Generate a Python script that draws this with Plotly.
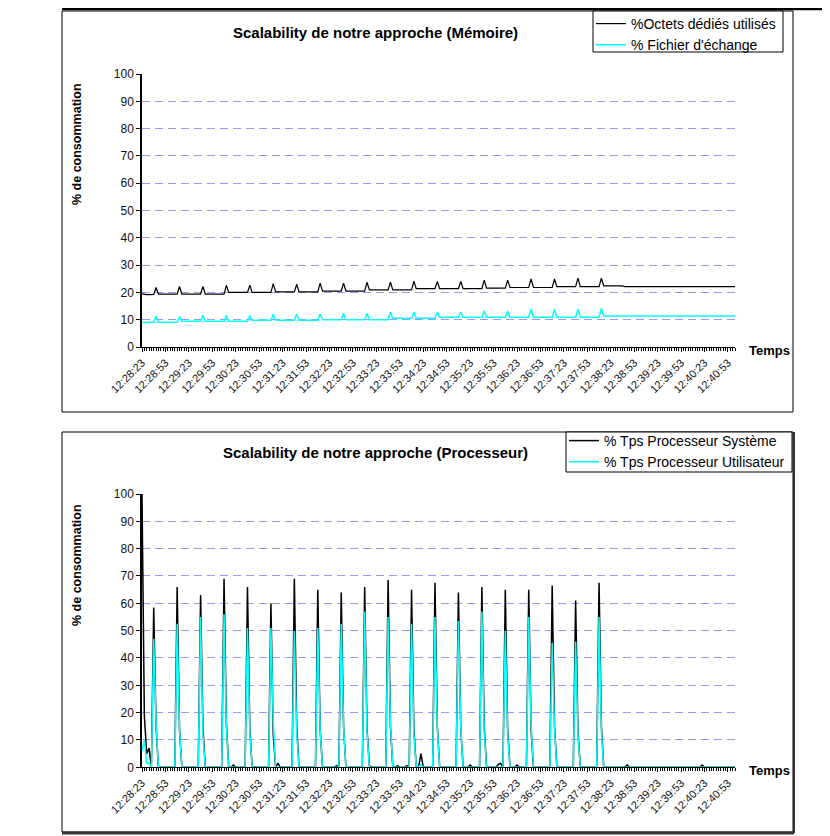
import pandas as pd
import plotly.graph_objects as go

# ---------------- data ----------------
TIME_LABELS = ["12:28:23", "12:28:53", "12:29:23", "12:29:53", "12:30:23", "12:30:53",
               "12:31:23", "12:31:53", "12:32:23", "12:32:53", "12:33:23", "12:33:53",
               "12:34:23", "12:34:53", "12:35:23", "12:35:53", "12:36:23", "12:36:53",
               "12:37:23", "12:37:53", "12:38:23", "12:38:53", "12:39:23", "12:39:53",
               "12:40:23", "12:40:53"]

MEM_USED = [
    19.5, 19.3, 19.2, 19.2, 19.3, 19.3, 21.8, 19.4, 19.4, 19.4,
    19.4, 19.4, 19.4, 19.4, 19.4, 19.4, 22.2, 19.4, 19.4, 19.4,
    19.4, 19.4, 19.4, 19.4, 19.4, 19.4, 22.2, 19.4, 19.4, 19.4,
    19.4, 19.4, 19.4, 19.4, 19.4, 19.4, 22.6, 20.0, 20.0, 20.0,
    20.0, 20.0, 20.0, 20.0, 20.0, 20.0, 22.6, 20.0, 20.0, 20.0,
    20.0, 20.0, 20.0, 20.0, 20.0, 20.0, 23.2, 20.2, 20.2, 20.2,
    20.2, 20.2, 20.2, 20.2, 20.2, 20.2, 23.0, 20.2, 20.2, 20.2,
    20.2, 20.2, 20.2, 20.2, 20.2, 20.2, 23.4, 20.5, 20.5, 20.5,
    20.5, 20.5, 20.5, 20.5, 20.5, 20.5, 23.4, 20.5, 20.5, 20.5,
    20.5, 20.5, 20.5, 20.5, 20.5, 20.5, 23.7, 20.9, 20.9, 20.9,
    20.9, 20.9, 20.9, 20.9, 20.9, 20.9, 23.7, 20.9, 20.9, 20.9,
    20.9, 20.9, 20.9, 20.9, 20.9, 20.9, 24.1, 21.4, 21.4, 21.4,
    21.4, 21.4, 21.4, 21.4, 21.4, 21.4, 24.0, 21.4, 21.4, 21.4,
    21.4, 21.4, 21.4, 21.4, 21.4, 21.4, 24.0, 21.4, 21.4, 21.4,
    21.4, 21.4, 21.4, 21.4, 21.4, 21.4, 24.5, 21.6, 21.6, 21.6,
    21.6, 21.6, 21.6, 21.6, 21.6, 21.6, 24.5, 21.8, 21.8, 21.8,
    21.8, 21.8, 21.8, 21.8, 21.8, 21.8, 24.9, 21.8, 21.8, 21.8,
    21.8, 21.8, 21.8, 21.8, 21.8, 21.8, 24.9, 22.1, 22.1, 22.1,
    22.1, 22.1, 22.1, 22.1, 22.1, 22.1, 25.2, 22.1, 22.1, 22.1,
    22.1, 22.1, 22.1, 22.1, 22.1, 22.1, 25.2, 22.4, 22.4, 22.4,
    22.4, 22.4, 22.4, 22.4, 22.4, 22.4, 22.1, 22.1, 22.1, 22.1,
    22.1, 22.1, 22.1, 22.1, 22.1, 22.1, 22.1, 22.1, 22.1, 22.1,
    22.1, 22.1, 22.1, 22.1, 22.1, 22.1, 22.1, 22.1, 22.1, 22.1,
    22.1, 22.1, 22.1, 22.1, 22.1, 22.1, 22.1, 22.1, 22.1, 22.1,
    22.1, 22.1, 22.1, 22.1, 22.1, 22.1, 22.1, 22.1, 22.1, 22.1,
    22.1, 22.1, 22.1, 22.1,
]

MEM_SWAP = [
    9.0, 9.1, 9.1, 9.1, 9.1, 9.1, 11.3, 9.1, 9.1, 9.1,
    9.1, 9.1, 9.1, 9.1, 9.1, 9.1, 11.1, 9.4, 9.4, 9.4,
    9.4, 9.4, 9.4, 9.4, 9.4, 9.4, 11.6, 9.4, 9.4, 9.4,
    9.4, 9.4, 9.4, 9.4, 9.4, 9.4, 11.6, 9.4, 9.4, 9.4,
    9.4, 9.4, 9.4, 9.4, 9.4, 9.4, 11.5, 9.8, 9.8, 9.8,
    9.8, 9.8, 9.8, 9.8, 9.8, 9.8, 12.1, 9.8, 9.8, 9.8,
    9.8, 9.8, 9.8, 9.8, 9.8, 9.8, 12.1, 9.8, 9.8, 9.8,
    9.8, 9.8, 9.8, 9.8, 9.8, 9.8, 12.1, 10.0, 10.0, 10.0,
    10.0, 10.0, 10.0, 10.0, 10.0, 10.0, 12.3, 10.0, 10.0, 10.0,
    10.0, 10.0, 10.0, 10.0, 10.0, 10.0, 12.4, 10.0, 10.0, 10.0,
    10.0, 10.0, 10.0, 10.0, 10.0, 10.0, 12.7, 10.5, 10.5, 10.5,
    10.5, 10.5, 10.5, 10.5, 10.5, 10.5, 12.8, 10.5, 10.5, 10.5,
    10.5, 10.5, 10.5, 10.5, 10.5, 10.5, 12.8, 10.9, 10.9, 10.9,
    10.9, 10.9, 10.9, 10.9, 10.9, 10.9, 12.8, 10.9, 10.9, 10.9,
    10.9, 10.9, 10.9, 10.9, 10.9, 10.9, 13.2, 10.9, 10.9, 10.9,
    10.9, 10.9, 10.9, 10.9, 10.9, 10.9, 13.2, 10.9, 10.9, 10.9,
    10.9, 10.9, 10.9, 10.9, 10.9, 10.9, 13.8, 10.9, 10.9, 10.9,
    10.9, 10.9, 10.9, 10.9, 10.9, 10.9, 13.8, 10.9, 10.9, 10.9,
    10.9, 10.9, 10.9, 10.9, 10.9, 10.9, 13.8, 10.9, 10.9, 10.9,
    10.9, 10.9, 10.9, 10.9, 10.9, 10.9, 14.1, 11.4, 11.4, 11.4,
    11.4, 11.4, 11.4, 11.4, 11.4, 11.4, 11.4, 11.4, 11.4, 11.4,
    11.4, 11.4, 11.4, 11.4, 11.4, 11.4, 11.4, 11.4, 11.4, 11.4,
    11.4, 11.4, 11.4, 11.4, 11.4, 11.4, 11.4, 11.4, 11.4, 11.4,
    11.4, 11.4, 11.4, 11.4, 11.4, 11.4, 11.4, 11.4, 11.4, 11.4,
    11.4, 11.4, 11.4, 11.4, 11.4, 11.4, 11.4, 11.4, 11.4, 11.4,
    11.4, 11.4, 11.4, 11.4,
]

CPU_SYS = [
    100, 19, 5, 7, 0, 58.5, 15, 0, 0, 0,
    0, 0, 0, 0, 0, 66, 14, 0, 0, 0,
    0, 0, 0, 0, 0, 63, 15, 0, 0, 0,
    0, 0, 0, 0, 0, 69, 16, 0, 0, 0.8,
    0, 0, 0, 0, 0, 66, 14, 0, 0, 0,
    0, 0, 0, 0, 0, 60, 12, 0, 1.5, 0,
    0, 0, 0, 0, 0, 69, 15, 0, 0, 0,
    0, 0, 0, 0, 0, 65, 14, 0, 0, 0,
    0, 0, 0, 0.6, 0, 64, 15, 0, 0, 0,
    0, 0, 0, 0, 0, 66, 14, 0.6, 0, 0,
    0, 0, 0, 0, 0, 68.5, 15, 0, 0, 0.6,
    0, 0, 0, 0.6, 0, 65, 14, 0, 0, 5,
    0, 0, 0, 0, 0, 67.5, 15, 0, 0, 0,
    0, 0, 0, 0, 0, 64, 14, 0, 0, 0,
    0.8, 0, 0, 0, 0, 66, 15, 0, 0, 0,
    0, 0, 1, 1.5, 0, 65, 14, 0, 0, 0,
    0.8, 0, 0, 0, 0, 65, 14, 0, 0, 0,
    0, 0, 0, 0, 0, 66.5, 15, 0, 0, 0,
    0, 0, 0, 0, 0, 61, 13, 0, 0, 0,
    0, 0, 0, 0, 0, 67.5, 15, 0, 0, 0,
    0, 0, 0, 0, 0, 0, 0, 0.8, 0, 0,
    0, 0, 0, 0, 0, 0, 0, 0, 0, 0,
    0, 0, 0, 0, 0, 0, 0, 0, 0, 0,
    0, 0, 0, 0, 0, 0, 0, 0, 0, 0.8,
    0, 0, 0, 0, 0, 0, 0, 0, 0, 0,
    0, 0, 0, 0,
]

CPU_USER = [
    6, 10, 1.5, 1.5, 0, 47, 16, 0, 0, 0,
    0, 0, 0, 0, 0, 52.5, 14, 0, 0, 0,
    0, 0, 0, 0, 0, 55, 12, 0, 0, 0,
    0, 0, 0, 0, 0, 56, 15, 0, 0, 0,
    0, 0, 0, 0, 0, 51, 13, 0, 0, 0,
    0, 0, 0, 0, 0, 51, 17, 0, 0, 0,
    0, 0, 0, 0, 0, 50, 12, 0, 0, 0,
    0, 0, 0, 0, 0, 51, 14, 0, 0, 0,
    0, 0, 0, 0, 0, 52.5, 15, 0, 0, 0,
    0, 0, 0, 0, 0, 57, 13, 0, 0, 0,
    0, 0, 0, 0, 0, 55, 16, 0, 0, 0,
    0, 0, 0, 0, 0, 52.5, 12, 0, 0, 1,
    0, 0, 0, 0, 0, 55, 14, 0, 0, 0,
    0, 0, 0, 0, 0, 53.5, 15, 0, 0, 0,
    0, 0, 0, 0, 0, 57, 13, 0, 0, 0,
    0, 0, 0, 0, 0, 50, 12, 0, 0, 0,
    0, 0, 0, 0, 0, 55, 16, 0, 0, 0,
    0, 0, 0, 0, 0, 45.5, 14, 0, 0, 0,
    0, 0, 0, 0, 0, 46, 12, 0, 0, 0,
    0, 0, 0, 0, 0, 55, 13, 0, 0, 0,
    0, 0, 0, 0, 0, 0, 0, 0, 0, 0,
    0, 0, 0, 0, 0, 0, 0, 0, 0, 0,
    0, 0, 0, 0, 0, 0, 0, 0, 0, 0,
    0, 0, 0, 0, 0, 0, 0, 0, 0, 0,
    0, 0, 0, 0, 0, 0, 0, 0, 0, 0,
    0, 0, 0, 0,
]

DAY = "2024-01-01 "
times = pd.date_range(DAY + TIME_LABELS[0], periods=len(MEM_USED), freq="3s")
tick_times = [DAY + t for t in TIME_LABELS]

# ---------------- layout helpers ----------------
# the page body has an 8px margin; the figure fills the rest of the 830x836 window
OFF = 8
W, H = 830 - OFF, 836 - OFF
FONT = "Liberation Sans, Arial, sans-serif"


def px(x):
    """screen x (pixels) -> paper fraction"""
    return (x - OFF) / W


def py(y):
    """screen y (pixels) -> paper fraction"""
    return 1 - (y - OFF) / H


fig = go.Figure()

fig.add_trace(go.Scatter(x=times, y=MEM_USED, name="%Octets dédiés utilisés", mode="lines",
                         line=dict(color="#000000", width=1.2), xaxis="x", yaxis="y", legend="legend"))
fig.add_trace(go.Scatter(x=times, y=MEM_SWAP, name="% Fichier d'échange", mode="lines",
                         line=dict(color="#00FFFF", width=1.5), xaxis="x", yaxis="y", legend="legend"))
fig.add_trace(go.Scatter(x=times, y=CPU_SYS, name="% Tps Processeur Système", mode="lines",
                         line=dict(color="#000000", width=1.5), xaxis="x2", yaxis="y2", legend="legend2"))
fig.add_trace(go.Scatter(x=times, y=CPU_USER, name="% Tps Processeur Utilisateur", mode="lines",
                         line=dict(color="#00FFFF", width=1.5), xaxis="x2", yaxis="y2", legend="legend2"))


def xaxis_cfg(anchor):
    return dict(
        domain=[px(142), px(735)], anchor=anchor, type="date", automargin=False,
        range=[times[0], times[-1]],
        tickmode="array", tickvals=tick_times, ticktext=TIME_LABELS,
        tickangle=-45, ticks="outside", ticklen=4, tickcolor="#000000",
        tickfont=dict(family=FONT, size=11, color="#111111"),
        minor=dict(ticks="outside", ticklen=3, dtick=3000, tick0=times[0], tickcolor="#000000",
                   showgrid=False),
        showline=True, linecolor="#000000", linewidth=1,
        showgrid=False, zeroline=False,
    )


def yaxis_cfg(anchor, y0, y100):
    return dict(
        domain=[py(y0), py(y100)], anchor=anchor, automargin=False,
        range=[0, 100], dtick=10, tick0=0,
        ticks="outside", ticklen=4, tickcolor="#000000",
        tickfont=dict(family=FONT, size=12, color="#111111"),
        showline=True, linecolor="#000000", linewidth=1.5,
        showgrid=True, gridcolor="#9999FF", gridwidth=1, griddash="8px,5px",
        zeroline=False,
    )


legend_common = dict(
    borderwidth=0, bgcolor="rgba(0,0,0,0)",
    font=dict(family=FONT, size=14, color="#000000"),
    xanchor="left", yanchor="top", tracegroupgap=0, itemwidth=30,
    xref="container", yref="container",
)

shapes = [
    # top chart frame
    dict(type="line", xref="paper", yref="paper", x0=px(62), x1=1, y0=py(9), y1=py(9),
         line=dict(color="#000000", width=2.5), layer="below"),
    dict(type="rect", xref="paper", yref="paper", x0=px(62), x1=px(793), y0=py(412), y1=py(11),
         line=dict(color="#000000", width=1), layer="below"),
    # bottom chart frame
    dict(type="rect", xref="paper", yref="paper", x0=px(62), x1=px(793), y0=py(832), y1=py(432),
         line=dict(color="#000000", width=1), layer="below"),
    dict(type="line", xref="paper", yref="paper", x0=px(62), x1=px(794), y0=py(833), y1=py(833),
         line=dict(color="#333333", width=3), layer="below"),
    dict(type="line", xref="paper", yref="paper", x0=px(794), x1=px(794), y0=py(833), y1=py(432),
         line=dict(color="#333333", width=2), layer="below"),
    # legend boxes
    dict(type="rect", xref="paper", yref="paper", x0=px(593), x1=px(783), y0=py(52), y1=py(11),
         line=dict(color="#000000", width=1), fillcolor="#FFFFFF", layer="above"),
    dict(type="rect", xref="paper", yref="paper", x0=px(566), x1=px(792), y0=py(472), y1=py(432),
         line=dict(color="#000000", width=1), fillcolor="#FFFFFF", layer="above"),
    # faint top gridlines
    dict(type="line", xref="x domain", yref="y", x0=0.005, x1=1, y0=100, y1=100,
         line=dict(color="rgba(255,255,255,0.75)", width=2), layer="above"),
    dict(type="line", xref="x2 domain", yref="y2", x0=0.005, x1=1, y0=100, y1=100,
         line=dict(color="rgba(255,255,255,0.75)", width=2), layer="above"),
]

annotations = [
    dict(text="<b>Scalability de notre approche (Mémoire)</b>", x=px(375), y=py(32),
         xref="paper", yref="paper", showarrow=False, xanchor="center", yanchor="middle",
         font=dict(family=FONT, size=15, color="#000000")),
    dict(text="<b>Scalability de notre approche (Processeur)</b>", x=px(375), y=py(452),
         xref="paper", yref="paper", showarrow=False, xanchor="center", yanchor="middle",
         font=dict(family=FONT, size=15, color="#000000")),
    dict(text="<b>% de consommation</b>", x=px(77), y=py(144), textangle=-90,
         xref="paper", yref="paper", showarrow=False, xanchor="center", yanchor="middle",
         font=dict(family=FONT, size=12.5, color="#000000")),
    dict(text="<b>% de consommation</b>", x=px(77), y=py(565), textangle=-90,
         xref="paper", yref="paper", showarrow=False, xanchor="center", yanchor="middle",
         font=dict(family=FONT, size=12.5, color="#000000")),
    dict(text="<b>Temps</b>", x=px(769), y=py(350),
         xref="paper", yref="paper", showarrow=False, xanchor="center", yanchor="middle",
         font=dict(family=FONT, size=13, color="#000000")),
    dict(text="<b>Temps</b>", x=px(769), y=py(770),
         xref="paper", yref="paper", showarrow=False, xanchor="center", yanchor="middle",
         font=dict(family=FONT, size=13, color="#000000")),
]

fig.update_layout(
    width=W, height=H, autosize=False,
    margin=dict(l=0, r=0, t=0, b=0, pad=0, autoexpand=False),
    paper_bgcolor="#FFFFFF", plot_bgcolor="#FFFFFF",
    font=dict(family=FONT, color="#000000"),
    xaxis=xaxis_cfg("y"),
    yaxis=yaxis_cfg("x", 347, 74),
    xaxis2=xaxis_cfg("y2"),
    yaxis2=yaxis_cfg("x2", 767.3, 494),
    legend=dict(x=px(591), y=py(5), **legend_common),
    legend2=dict(x=px(564), y=py(425), **legend_common),
    shapes=shapes,
    annotations=annotations,
    showlegend=True,
)

fig.write_html("out.html")
